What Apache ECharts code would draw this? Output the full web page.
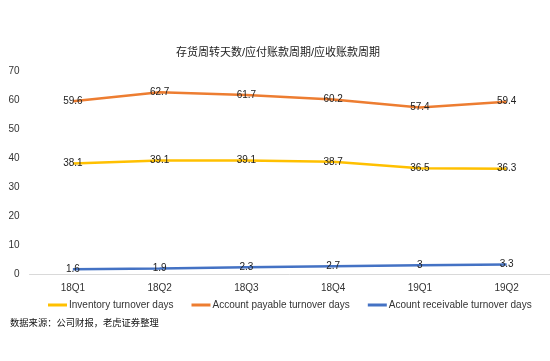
<!DOCTYPE html>
<html>
<head>
<meta charset="utf-8">
<script src="https://cdn.jsdelivr.net/npm/echarts@6/dist/echarts.min.js"></script>
<style>html,body{margin:0;padding:0;background:#fff;}#c{width:550px;height:361px;}</style>
</head>
<body>
<div id="c"></div>
<script>
var categories = ['18Q1','18Q2','18Q3','18Q4','19Q1','19Q2'];
var inventoryDays = [38.1, 39.1, 39.1, 38.7, 36.5, 36.3];
var payableDays = [59.6, 62.7, 61.7, 60.2, 57.4, 59.4];
var receivableDays = [1.6, 1.9, 2.3, 2.7, 3, 3.3];
var yTicks = [0, 10, 20, 30, 40, 50, 60, 70];
var seriesNames = ['Inventory turnover days', 'Account payable turnover days', 'Acount receivable turnover days'];
var colors = ['#FFC000', '#ED7D31', '#4472C4'];

var font = 'Arial, "Liberation Sans", "Noto Sans CJK SC", sans-serif';
function mk(name, data, color) {
  return {
    name: name, type: 'line', data: data,
    symbol: 'circle', symbolSize: 0, showSymbol: true,
    lineStyle: {width: 2.5, color: color},
    itemStyle: {color: color},
    label: {show: true, position: 'inside', color: '#222', fontSize: 10, fontFamily: font},
    emphasis: {disabled: true}, animation: false, z: 2
  };
}
var chart = echarts.init(document.getElementById('c'), null, {renderer: 'canvas'});
chart.setOption({
  animation: false,
  title: {text: '存货周转天数/应付账款周期/应收账款周期', left: 273, textAlign: 'center', top: 42,
    textStyle: {fontSize: 11, fontWeight: 'normal', color: '#222', fontFamily: font}},
  graphic: [{type: 'text', left: 10, top: 319, style: {text: '数据来源：公司财报，老虎证券整理', fill: '#111', font: '9.3px ' + font}}],
  legend: {top: 295, left: 43, itemWidth: 19, itemHeight: 3, itemGap: 18,
    icon: 'rect',
    textStyle: {fontSize: 10, color: '#333', fontFamily: font, padding: [0,0,0,-3]},
    data: seriesNames},
  grid: {left: 29.5, right: -1.5, top: 71, bottom: 87, containLabel: false},
  xAxis: {type: 'category', data: categories, boundaryGap: true,
    axisLine: {lineStyle: {color: '#d9d9d9', width: 1}}, axisTick: {show: false},
    axisLabel: {color: '#333', fontSize: 10, fontFamily: font, margin: 9}},
  yAxis: {type: 'value', min: yTicks[0], max: yTicks[yTicks.length-1], interval: 10,
    axisLine: {show: false}, axisTick: {show: false}, splitLine: {show: false},
    axisLabel: {color: '#333', fontSize: 10, fontFamily: font, margin: 10}},
  series: [mk(seriesNames[0], inventoryDays, colors[0]), mk(seriesNames[1], payableDays, colors[1]), mk(seriesNames[2], receivableDays, colors[2])]
});
</script>
</body>
</html>
